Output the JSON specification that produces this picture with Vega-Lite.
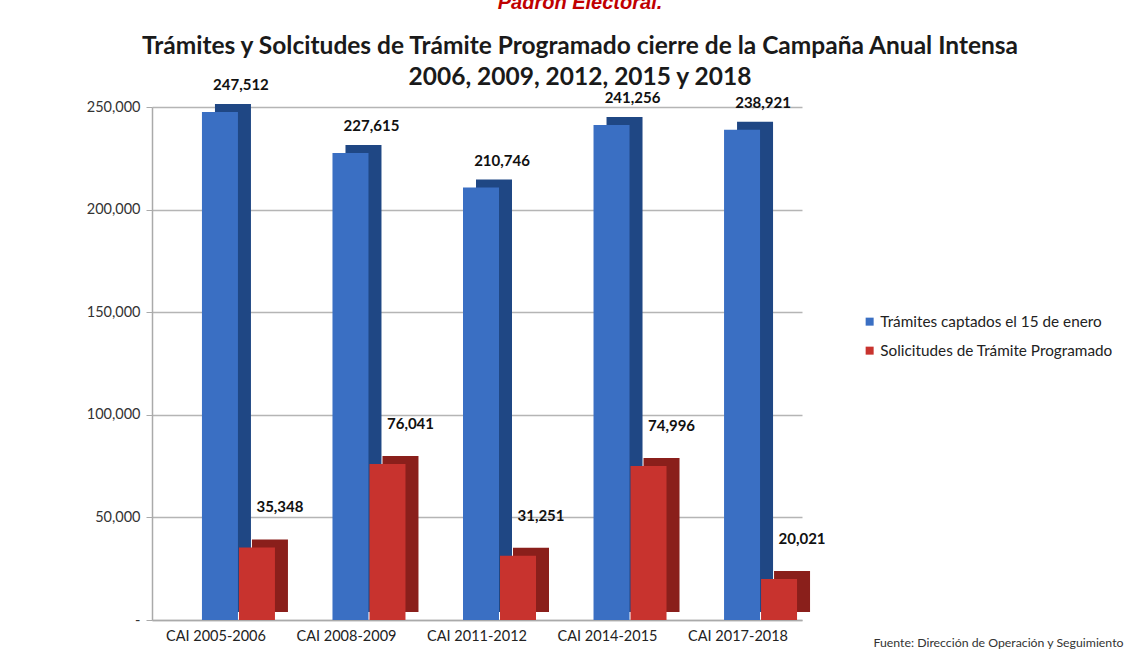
{
  "$schema": "https://vega.github.io/schema/vega-lite/v6.json",
  "width": 650,
  "height": 513,
  "autosize": {"type": "none"},
  "padding": {"left": 152, "top": 107, "right": 338, "bottom": 35},
  "background": "white",
  "config": {"view": {"stroke": null}, "font": "Lato"},
  "title": {
    "text": "Padrón Electoral.",
    "font": "Liberation Sans",
    "fontSize": 20,
    "fontStyle": "italic",
    "fontWeight": "bold",
    "color": "#c00000",
    "subtitle": ["Trámites y Solcitudes de Trámite Programado cierre de la Campaña Anual Intensa", "2006, 2009, 2012, 2015 y 2018"],
    "subtitleFont": "Lato",
    "subtitleFontSize": 24.5,
    "subtitleFontWeight": "bold",
    "subtitleColor": "#1a1a1a",
    "subtitleLineHeight": 31,
    "subtitlePadding": 22,
    "anchor": "middle",
    "dx": 103,
    "offset": -11
  },
  "data": {
    "values": [
      {"campaign": "CAI 2005-2006", "serie": "Trámites captados el 15 de enero", "value": 247512},
      {"campaign": "CAI 2005-2006", "serie": "Solicitudes de Trámite Programado", "value": 35348},
      {"campaign": "CAI 2008-2009", "serie": "Trámites captados el 15 de enero", "value": 227615},
      {"campaign": "CAI 2008-2009", "serie": "Solicitudes de Trámite Programado", "value": 76041},
      {"campaign": "CAI 2011-2012", "serie": "Trámites captados el 15 de enero", "value": 210746},
      {"campaign": "CAI 2011-2012", "serie": "Solicitudes de Trámite Programado", "value": 31251},
      {"campaign": "CAI 2014-2015", "serie": "Trámites captados el 15 de enero", "value": 241256},
      {"campaign": "CAI 2014-2015", "serie": "Solicitudes de Trámite Programado", "value": 74996},
      {"campaign": "CAI 2017-2018", "serie": "Trámites captados el 15 de enero", "value": 238921},
      {"campaign": "CAI 2017-2018", "serie": "Solicitudes de Trámite Programado", "value": 20021}
    ]
  },
  "encoding": {
    "x": {
      "field": "campaign",
      "type": "nominal",
      "sort": null,
      "scale": {"paddingInner": 0.42, "paddingOuter": 0.2},
      "axis": {
        "labelAngle": 0,
        "labelFontSize": 14.5,
        "labelColor": "#222222",
        "labelPadding": 9,
        "ticks": false,
        "domainColor": "#aaaaaa",
        "domainWidth": 1.5,
        "title": "Fuente:  Dirección de Operación y Seguimiento",
        "titleFontSize": 12.3,
        "titleFontWeight": "normal",
        "titleColor": "#333333",
        "titleX": 721,
        "titleY": 22,
        "titleAlign": "left",
        "titleBaseline": "middle",
        "titleAnchor": null
      }
    },
    "y": {
      "field": "value",
      "type": "quantitative",
      "scale": {"domain": [0, 250000], "nice": false},
      "axis": {
        "title": null,
        "values": [0, 50000, 100000, 150000, 200000, 250000],
        "labelExpr": "datum.value == 0 ? '-' : format(datum.value, ',')",
        "labelFontSize": 14.5,
        "labelColor": "#333333",
        "labelPadding": 6,
        "tickColor": "#aaaaaa",
        "tickSize": 6,
        "domainColor": "#aaaaaa",
        "domainWidth": 1.5,
        "gridColor": "#b5b5b5",
        "gridWidth": 1.5
      }
    }
  },
  "layer": [
    {
      "transform": [{"filter": "datum.serie === 'Trámites captados el 15 de enero'"}],
      "mark": {"type": "bar", "width": 36, "xOffset": 17, "yOffset": -8, "color": "#1f4784"}
    },
    {
      "transform": [{"filter": "datum.serie === 'Solicitudes de Trámite Programado'"}],
      "mark": {"type": "bar", "width": 36, "xOffset": 54, "yOffset": -8, "color": "#8a1f1b"}
    },
    {
      "transform": [{"filter": "datum.serie === 'Trámites captados el 15 de enero'"}],
      "mark": {"type": "bar", "width": 36, "xOffset": 4},
      "encoding": {
        "color": {
          "field": "serie",
          "type": "nominal",
          "scale": {"domain": ["Trámites captados el 15 de enero", "Solicitudes de Trámite Programado"], "range": ["#3a6fc3", "#c8332e"]},
          "legend": {
            "title": null,
            "orient": "none",
            "legendX": 710,
            "legendY": 207,
            "symbolType": "square",
            "symbolSize": 64,
            "symbolStrokeWidth": 0,
            "labelFontSize": 15.3,
            "labelColor": "#222222",
            "labelLimit": 300,
            "rowPadding": 13,
            "labelOffset": 3
          }
        }
      }
    },
    {
      "transform": [{"filter": "datum.serie === 'Solicitudes de Trámite Programado'"}],
      "mark": {"type": "bar", "width": 36, "xOffset": 41},
      "encoding": {
        "color": {
          "field": "serie",
          "type": "nominal",
          "scale": {"domain": ["Trámites captados el 15 de enero", "Solicitudes de Trámite Programado"], "range": ["#3a6fc3", "#c8332e"]}
        }
      }
    },
    {
      "transform": [{"filter": "datum.serie === 'Trámites captados el 15 de enero'"}],
      "mark": {"type": "text", "dx": 25, "dy": -27, "fontSize": 15, "fontWeight": "bold", "color": "#111111"},
      "encoding": {"text": {"field": "value", "type": "quantitative", "format": ","}}
    },
    {
      "transform": [{"filter": "datum.serie === 'Solicitudes de Trámite Programado'"}],
      "mark": {"type": "text", "dx": 64, "dy": -40, "fontSize": 15, "fontWeight": "bold", "color": "#111111"},
      "encoding": {"text": {"field": "value", "type": "quantitative", "format": ","}}
    }
  ]
}
